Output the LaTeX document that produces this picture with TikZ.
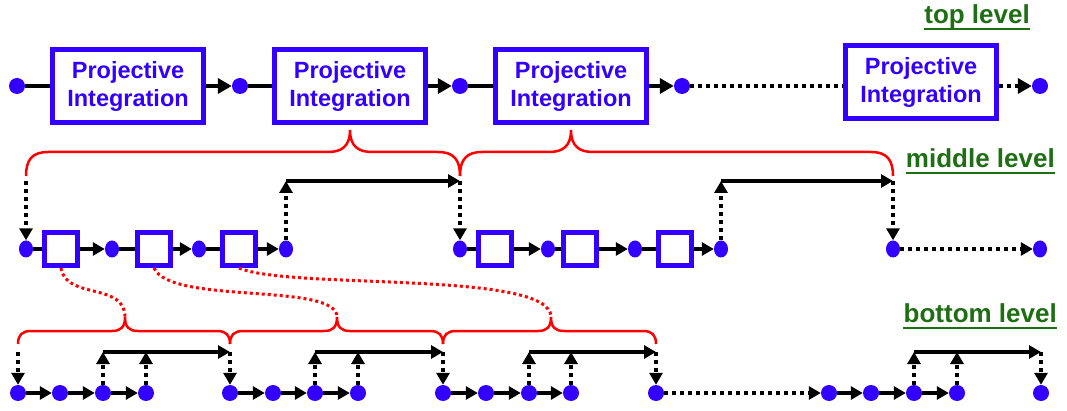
\documentclass[tikz,border=0pt]{standalone}
\usepackage{fontspec}
\setmainfont{Liberation Sans}
\usetikzlibrary{arrows.meta,shapes.geometric}
\definecolor{pblue}{RGB}{51,0,255}
\definecolor{bred}{RGB}{255,0,0}
\definecolor{lvlgreen}{RGB}{30,110,20}

\begin{document}
\begin{tikzpicture}[x=1pt,y=-1pt,
  tdot/.style={circle,fill=pblue,inner sep=0,minimum size=16},
  mdot/.style={ellipse,fill=pblue,inner sep=0,minimum width=14,minimum height=17},
  bdot/.style={circle,fill=pblue,inner sep=0,minimum size=16},
  pibox/.style={draw=pblue,line width=5,minimum width=151,minimum height=73,inner sep=0,
    align=center,text=pblue,font=\fontsize{23.5}{28}\selectfont\bfseries},
  sbox/.style={draw=pblue,line width=5,minimum size=33,inner sep=0},
  solidlink/.style={line width=4},
  dotlink/.style={line width=4,dash pattern=on 4pt off 4pt},
  headL/.style={-{Triangle[length=14pt,width=15pt]}},
  headS/.style={-{Triangle[length=12pt,width=13pt]}},
  redbrace/.style={draw=bred,line width=2.5},
  reddot/.style={draw=bred,line width=3,dash pattern=on 3pt off 3pt},
  lvl/.style={text=lvlgreen,font=\fontsize{26}{30}\selectfont\bfseries,inner sep=0},
]
\fill[white] (0,0) rectangle (1067,411);
\path[use as bounding box] (0,0) rectangle (1067,411);

% ---------- top level ----------
\node[tdot] (t1) at (17,86) {};
\node[pibox] (b1) at (128,86) {Projective\\Integration};
\node[tdot] (t2) at (240,86) {};
\node[pibox] (b2) at (350,86) {Projective\\Integration};
\node[tdot] (t3) at (460,86) {};
\node[pibox] (b3) at (571,86) {Projective\\Integration};
\node[tdot] (t4) at (682,86) {};
\node[pibox] (b4) at (921,82) {Projective\\Integration};
\node[tdot] (t5) at (1040,86) {};

\draw[solidlink] (t1) -- (b1);
\draw[solidlink,headL] (b1) -- (t2);
\draw[solidlink] (t2) -- (b2);
\draw[solidlink,headL] (b2) -- (t3);
\draw[solidlink] (t3) -- (b3);
\draw[solidlink,headL] (b3) -- (t4);
\draw[dotlink] (t4) -- (t4 -| b4.west);
\draw[dotlink,headL] (t5 -| b4.east) -- (t5);

% ---------- middle level ----------
\foreach \n/\x in {1/26,2/112,3/199,4/286,5/460,6/548,7/635,8/721,9/893,10/1040}
  \node[mdot] (md\n) at (\x,249) {};
\foreach \n/\x in {1/61,2/154,3/239,4/495,5/580,6/675}
  \node[sbox] (ms\n) at (\x,249) {};

\foreach \d/\s/\e in {1/1/2,2/2/3,3/3/4,5/4/6,6/5/7,7/6/8}{
  \draw[solidlink] (md\d) -- (ms\s);
  \draw[solidlink,headS] (ms\s) -- (md\e);
}

\coordinate (mline) at (0,181);
\draw[dotlink,headS] (md1 |- mline) -- (md1);
\draw[dotlink,headS] (md4) -- (md4 |- mline);
\draw[solidlink,headS] (md4 |- mline) -- (md5 |- mline);
\draw[dotlink,headS] (md5 |- mline) -- (md5);
\draw[dotlink,headS] (md8) -- (md8 |- mline);
\draw[solidlink,headS] (md8 |- mline) -- (md9 |- mline);
\draw[dotlink,headS] (md9 |- mline) -- (md9);
\draw[dotlink,headS] (md9) -- (md10);

% ---------- bottom level ----------
\foreach \n/\x in {1/18,2/60,3/103,4/146,5/230,6/273,7/315,8/358,9/443,10/486,11/529,12/571,
  13/656,14/829,15/871,16/914,17/957,18/1041}
  \node[bdot] (bd\n) at (\x,393) {};
\foreach \a/\b in {1/2,2/3,3/4,5/6,6/7,7/8,9/10,10/11,11/12,14/15,15/16,16/17}
  \draw[solidlink,headS] (bd\a) -- (bd\b);
\draw[dotlink,headS] (bd13) -- (bd14);

\coordinate (bline) at (0,352);
\draw[dotlink,headS] (bd1 |- bline) -- (bd1);
\foreach \u/\v/\w in {3/4/5,7/8/9,11/12/13,16/17/18}{
  \draw[dotlink,headS] (bd\u) -- (bd\u |- bline);
  \draw[dotlink,headS] (bd\v) -- (bd\v |- bline);
  \draw[solidlink,headS] (bd\u |- bline) -- (bd\w |- bline);
  \draw[dotlink,headS] (bd\w |- bline) -- (bd\w);
}

% ---------- braces ----------
\foreach \a/\m/\b in {26/350/460,460/571/893}
  \draw[redbrace] (\a,176) .. controls (\a,160) and ({\a+6},152) .. ({\a+22},152)
    -- ({\m-22},152) .. controls ({\m-8},152) and (\m,146) .. (\m,130)
    .. controls (\m,146) and ({\m+8},152) .. ({\m+22},152)
    -- ({\b-22},152) .. controls ({\b-6},152) and (\b,160) .. (\b,176);
\foreach \a/\m/\b in {18/125/230,230/337/443,443/551/656}
  \draw[redbrace] (\a,344) .. controls (\a,335) and ({\a+4},331) .. ({\a+13},331)
    -- ({\m-13},331) .. controls ({\m-4},331) and (\m,327) .. (\m,317)
    .. controls (\m,327) and ({\m+4},331) .. ({\m+13},331)
    -- ({\b-13},331) .. controls ({\b-4},331) and (\b,335) .. (\b,344);

\coordinate (tipA) at (125,317);
\coordinate (tipB) at (337,317);
\coordinate (tipC) at (551,317);
\draw[reddot] (ms1.south) .. controls (66,300) and (125,282) .. (tipA);
\draw[reddot] (ms2.south) .. controls (170,305) and (337,282) .. (tipB);
\draw[reddot] (ms3.south) .. controls (290,290) and (551,270) .. (tipC);

% ---------- level labels ----------
\node[lvl,anchor=base east] (toplab) at (1030,24) {top level};
\node[lvl,anchor=base east] (midlab) at (1055,168) {middle level};
\node[lvl,anchor=base east] (botlab) at (1057,322) {bottom level};
\foreach \l in {toplab,midlab,botlab}
  \draw[lvlgreen,line width=2] ([yshift=-5.5pt]\l.base west) -- ([yshift=-5.5pt]\l.base east);
\end{tikzpicture}
\end{document}
